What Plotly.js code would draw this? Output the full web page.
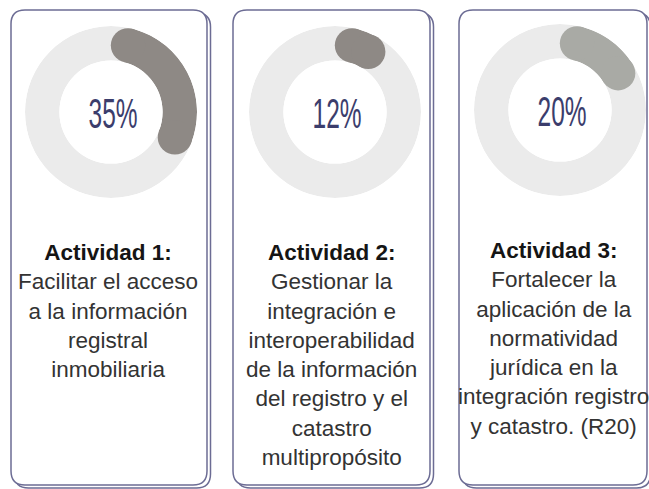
<!DOCTYPE html>
<html>
<head>
<meta charset="utf-8">
<script src="https://cdn.plot.ly/plotly-3.0.1.min.js"></script>
<style>html,body{margin:0;padding:0;background:#fff;}#chart{width:649px;height:489px;}</style>
</head>
<body>
<div id="chart"></div>
<script>
// ---- data ----
const activities = ['Actividad 1:', 'Actividad 2:', 'Actividad 3:'];
const percents = [35, 12, 20];
const descriptions = [
  ['Facilitar el acceso', 'a la información', 'registral', 'inmobiliaria'],
  ['Gestionar la', 'integración e', 'interoperabilidad', 'de la información', 'del registro y el', 'catastro', 'multipropósito'],
  ['Fortalecer la', 'aplicación de la', 'normatividad', 'jurídica en la', 'integración registro', 'y catastro. (R20)']
];
const arcColors = ['#8e8985', '#8e8985', '#a9aaa5'];

// ---- layout geometry (pixels) ----
const W = 649, H = 489;
const donutCenters = [[111, 112], [335, 112], [560, 110]];
const donutR = 86;
const hole = 0.6;
const cards = [[11, 10, 207, 485], [233, 10, 430, 485], [459, 10, 647, 485]];
const textCenters = [108, 331, 553];
const textTops = [238, 238, 236];

const ringColor = '#ebebeb';
const borderColor = '#6c6c94';

const thicknessPx = donutR * (1 - hole);
const midR = donutR * (1 + hole) / 2;
const capDeg = (thicknessPx / 2) / midR * 180 / Math.PI;

const traces = [{x: [], y: [], type: 'scatter', hoverinfo: 'skip', showlegend: false}];
const layout = {
  width: W, height: H,
  margin: {l: 0, r: 0, t: 0, b: 0},
  paper_bgcolor: '#fff', plot_bgcolor: 'rgba(0,0,0,0)',
  showlegend: false,
  xaxis: {range: [0, W], visible: false, fixedrange: true},
  yaxis: {range: [H, 0], visible: false, fixedrange: true},
  shapes: [], annotations: []
};

function roundRect(x0, y0, x1, y1, r) {
  return `M${x0 + r},${y0} H${x1 - r} Q${x1},${y0} ${x1},${y0 + r} V${y1 - r} Q${x1},${y1} ${x1 - r},${y1} H${x0 + r} Q${x0},${y1} ${x0},${y1 - r} V${y0 + r} Q${x0},${y0} ${x0 + r},${y0} Z`;
}

const pctAnnIdx = [];
percents.forEach((p, i) => {
  const key = i === 0 ? 'polar' : 'polar' + (i + 1);
  const [cx, cy] = donutCenters[i];
  layout[key] = {
    domain: {x: [(cx - donutR) / W, (cx + donutR) / W], y: [(H - cy - donutR) / H, (H - cy + donutR) / H]},
    hole: hole,
    bgcolor: 'rgba(0,0,0,0)',
    radialaxis: {range: [0, 1], visible: false},
    angularaxis: {rotation: 90, direction: 'clockwise', visible: false}
  };
  const V = p / 100 * 360;
  traces.push({type: 'barpolar', subplot: key, r: [1], base: [0], theta: [180], width: [360],
    marker: {color: ringColor, line: {width: 0}}, hoverinfo: 'skip', showlegend: false});
  traces.push({type: 'barpolar', subplot: key, r: [1], base: [0], theta: [V / 2], width: [Math.max(V - 2 * capDeg, 0.5)],
    marker: {color: arcColors[i], line: {width: 0}}, hoverinfo: 'skip', showlegend: false});
  traces.push({type: 'scatterpolar', subplot: key, mode: 'markers', r: [0.5, 0.5], theta: [capDeg, V - capDeg],
    marker: {size: thicknessPx, color: arcColors[i], line: {width: 0}}, hoverinfo: 'skip', showlegend: false, cliponaxis: false});

  pctAnnIdx.push(layout.annotations.length);
  layout.annotations.push({x: cx + 2, y: cy + 1, xref: 'x', yref: 'y', text: p + '%', showarrow: false,
    xanchor: 'center', yanchor: 'middle',
    font: {family: 'Liberation Sans, Arial, sans-serif', size: 43, color: '#3b3d6c'}});

  const [x0, y0, x1, y1] = cards[i];
  layout.shapes.push({type: 'path', xref: 'x', yref: 'y', layer: 'below', path: roundRect(x0 + 3.5, y0 + 3, x1 + 3.5, y1 + 3, 14),
    line: {color: borderColor, width: 1.5}, fillcolor: '#fff'});
  layout.shapes.push({type: 'path', xref: 'x', yref: 'y', layer: 'below', path: roundRect(x0, y0, x1, y1, 14),
    line: {color: borderColor, width: 1.5}, fillcolor: '#fff'});

  const text = `<b><span style="color:#151515">${activities[i]}</span></b><br>` + descriptions[i].join('<br>');
  layout.annotations.push({x: textCenters[i], y: textTops[i], xref: 'x', yref: 'y', text: text, showarrow: false,
    xanchor: 'center', yanchor: 'top', align: 'center',
    font: {family: 'Liberation Sans, Arial, sans-serif', size: 22.5, color: '#333333'}});
});

Plotly.newPlot('chart', traces, layout, {staticPlot: true, displayModeBar: false}).then(gd => {
  // condense the percentage labels horizontally (mimic a condensed display face)
  const groups = gd.querySelectorAll('.annotation');
  groups.forEach(g => {
    const idx = +g.getAttribute('data-index');
    if (pctAnnIdx.indexOf(idx) < 0) return;
    const t = g.querySelector('text.annotation-text');
    if (!t) return;
    const bb = t.getBBox();
    const c = bb.x + bb.width / 2;
    t.setAttribute('transform', `translate(${c},0) scale(0.57,1) translate(${-c},0)`);
  });
});
</script>
</body>
</html>
